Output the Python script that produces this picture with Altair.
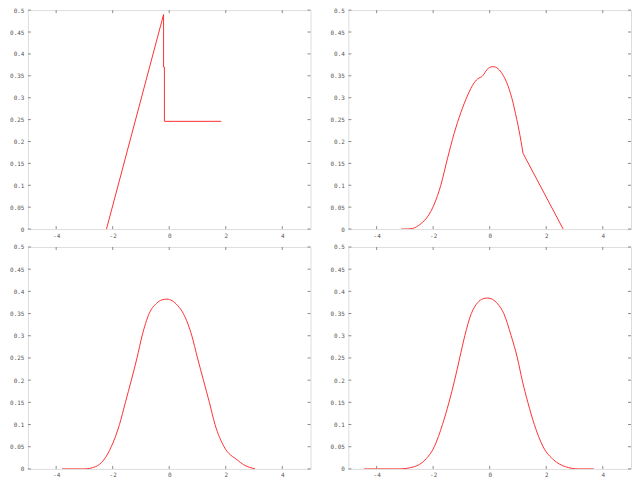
import altair as alt
import pandas as pd

# ---- data ----
XTICKS = [-4, -2, 0, 2, 4]
YTICKS = [0, 0.05, 0.1, 0.15, 0.2, 0.25, 0.3, 0.35, 0.4, 0.45, 0.5]

p1_x = [-2.22, -0.2, -0.2, -0.17, -0.17, 1.84]
p1_y = [0.0, 0.49, 0.37, 0.37, 0.246, 0.246]

# panel 2: smooth part, then a straight tail
p2_x = [-3.14, -2.9, -2.73, -2.44, -2.2, -1.96, -1.73, -1.49, -1.26, -1.02, -0.79,
        -0.55, -0.38, -0.28, -0.2, -0.1, 0.0, 0.1, 0.2, 0.3, 0.45, 0.6,
        0.78, 0.96, 1.11, 1.18]
p2_y = [0.0, 0.0003, 0.0015, 0.012, 0.028, 0.057, 0.1, 0.162, 0.218, 0.266, 0.304,
        0.334, 0.345, 0.348, 0.354, 0.364, 0.369, 0.371, 0.37, 0.366, 0.354, 0.335,
        0.3, 0.25, 0.2, 0.173]
p2_tail_x = [1.18, 2.6]
p2_tail_y = [0.173, 0.0]

p3_x = [-3.79, -3.02, -2.61, -2.32, -2.05, -1.76, -1.55, -1.34, -1.14, -0.96, -0.71,
        -0.45, -0.25, -0.08, 0.1, 0.3, 0.5, 0.8, 1.0, 1.21, 1.42, 1.62, 1.94, 2.41,
        2.62, 3.04]
p3_y = [0.0, 0.0, 0.005, 0.02, 0.05, 0.1, 0.15, 0.2, 0.25, 0.3, 0.35,
        0.373, 0.381, 0.3825, 0.379, 0.368, 0.35, 0.3, 0.25, 0.2, 0.15, 0.1, 0.05, 0.02,
        0.01, 0.0]

p4_x = [-4.44, -3.2, -2.67, -2.29, -1.96, -1.67, -1.44, -1.24, -1.06, -0.88, -0.65,
        -0.42, -0.25, -0.08, 0.1, 0.28, 0.5, 0.76, 0.98, 1.15, 1.35, 1.58, 1.89, 2.27,
        2.68, 3.15, 3.68]
p4_y = [0.0, 0.0, 0.005, 0.02, 0.05, 0.1, 0.15, 0.2, 0.25, 0.3, 0.35,
        0.375, 0.383, 0.385, 0.382, 0.372, 0.35, 0.3, 0.25, 0.2, 0.15, 0.1, 0.05, 0.02,
        0.005, 0.0, 0.0]

W = 284
BORDER = "#8a8a8a"
LINE = "#ff3030"
FONT = "DejaVu Sans Mono"

xscale = alt.Scale(domain=[-5, 5], nice=False, zero=False)
yscale = alt.Scale(domain=[0, 0.5], nice=False)
AX_X = alt.Axis(values=XTICKS, ticks=False, domain=False, grid=False, title=None,
                labelExpr="datum.value + ''", labelFont=FONT, labelFontSize=6,
                labelColor="#555555", labelPadding=3)
AX_Y = alt.Axis(values=YTICKS, ticks=False, domain=False, grid=False, title=None,
                labelExpr="datum.value + ''", labelFont=FONT, labelFontSize=6,
                labelColor="#555555", labelPadding=4, minExtent=19, maxExtent=19)


def curve(xs, ys, interp):
    df = pd.DataFrame({"x": xs, "y": ys})
    return alt.Chart(df).mark_line(color=LINE, strokeWidth=1, interpolate=interp, clip=True).encode(
        x=alt.X("x:Q", scale=xscale, axis=AX_X),
        y=alt.Y("y:Q", scale=yscale, axis=AX_Y),
    )


def panel(lines, h):
    xt = pd.DataFrame({"v": XTICKS})
    yt = pd.DataFrame({"v": YTICKS})
    xb = alt.Chart(xt).mark_rule(color=BORDER, strokeWidth=1).encode(
        x=alt.X("v:Q", scale=xscale, axis=AX_X), y=alt.value(h), y2=alt.value(h - 3))
    xtop = alt.Chart(xt).mark_rule(color=BORDER, strokeWidth=1).encode(
        x=alt.X("v:Q", scale=xscale, axis=AX_X), y=alt.value(0), y2=alt.value(3))
    yl = alt.Chart(yt).mark_rule(color=BORDER, strokeWidth=1).encode(
        y=alt.Y("v:Q", scale=yscale, axis=AX_Y), x=alt.value(0), x2=alt.value(3))
    yr = alt.Chart(yt).mark_rule(color=BORDER, strokeWidth=1).encode(
        y=alt.Y("v:Q", scale=yscale, axis=AX_Y), x=alt.value(W - 3), x2=alt.value(W))
    return alt.layer(*lines, xb, xtop, yl, yr).properties(width=W, height=h)


TOP_H = 220
top = alt.hconcat(
    panel([curve(p1_x, p1_y, "linear")], TOP_H),
    panel([curve(p2_x, p2_y, "monotone"), curve(p2_tail_x, p2_tail_y, "linear")], TOP_H),
    spacing=17)
bot = alt.hconcat(
    panel([curve(p3_x, p3_y, "monotone")], 223),
    panel([curve(p4_x, p4_y, "monotone")], 223),
    spacing=17)

chart = alt.vconcat(top, bot, spacing=4).properties(
    padding={"left": 0, "top": -3, "right": 0, "bottom": 0}
).configure_view(stroke=BORDER, strokeWidth=1).configure(background="white")

chart.save("out.html", embed_options={"renderer": "svg", "actions": False})
